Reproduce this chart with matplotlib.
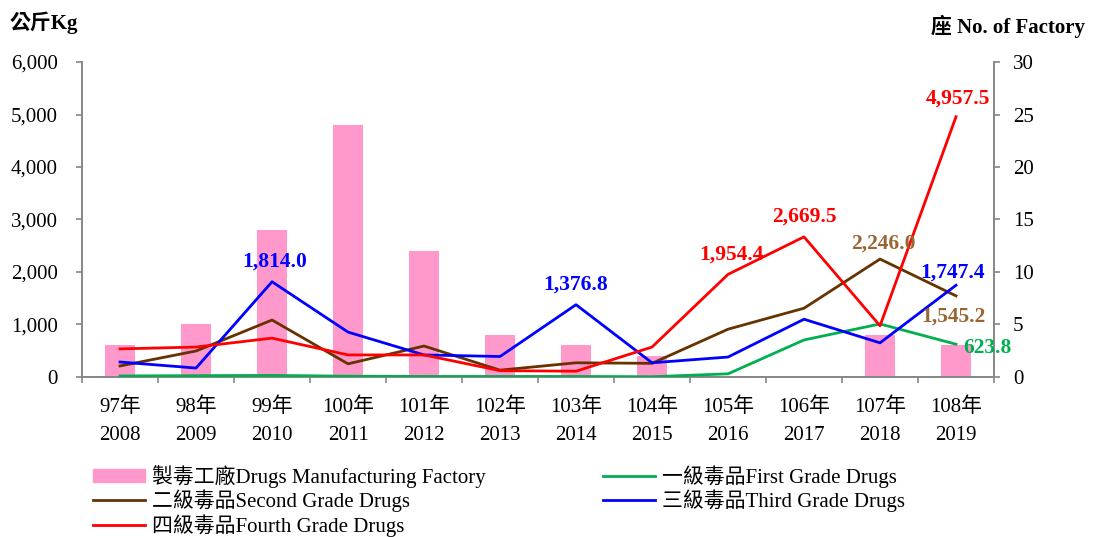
import matplotlib.pyplot as plt
from matplotlib.patches import Patch
from matplotlib.lines import Line2D
from matplotlib.ticker import FuncFormatter

plt.rcParams['font.family'] = ['Liberation Serif', 'Noto Sans CJK TC']

roc_years = ['97年', '98年', '99年', '100年', '101年', '102年',
             '103年', '104年', '105年', '106年', '107年', '108年']
ad_years = ['2008', '2009', '2010', '2011', '2012', '2013',
            '2014', '2015', '2016', '2017', '2018', '2019']

factories = [3, 5, 14, 24, 12, 4, 3, 2, 0, 0, 4, 3]
grade1 = [20, 25, 30, 15, 10, 10, 10, 5, 60, 705, 1010, 623.8]
grade2 = [210, 495, 1085, 250, 590, 130, 270, 260, 910, 1310, 2246.0, 1545.2]
grade3 = [285, 170, 1814.0, 855, 420, 390, 1376.8, 270, 380, 1100, 650, 1747.4]
grade4 = [535, 570, 740, 420, 420, 120, 110, 570, 1954.4, 2669.5, 975, 4957.5]

pink = '#FF99CC'
green = '#00B050'
brown = '#663300'
brown_lbl = '#996633'
blue = '#0000FF'
red = '#FF0000'
gray = '#868686'

fig = plt.figure(figsize=(10.94, 5.37), dpi=100)
ax = fig.add_axes([0.075, 0.298, 0.8336, 0.5865])
ax2 = ax.twinx()
ax.set_zorder(ax2.get_zorder() + 1)
ax.patch.set_visible(False)

x = list(range(len(roc_years)))
ax2.bar(x, factories, width=0.4, color=pink, zorder=1)

ax.plot(x, grade1, color=green, lw=2, zorder=3)
ax.plot(x, grade2, color=brown, lw=2, zorder=3)
ax.plot(x, grade3, color=blue, lw=2, zorder=3)
ax.plot(x, grade4, color=red, lw=2, zorder=3)

ax.set_xlim(-0.5, 11.5)
ax.set_ylim(0, 6000)
ax2.set_ylim(0, 30)
ax.set_yticks(range(0, 6001, 1000))
ax2.set_yticks(range(0, 31, 5))
ax.yaxis.set_major_formatter(FuncFormatter(lambda v, p: f'{int(v):,}'))

ax.set_xticks([i - 0.5 for i in range(13)])
ax.set_xticklabels([])
ax.set_xticks(x, minor=True)
ax.set_xticklabels([f'{a}\n{b}' for a, b in zip(roc_years, ad_years)], minor=True,
                   fontsize=15, linespacing=1.6)
ax.tick_params(axis='x', which='minor', length=0, pad=15)
ax.tick_params(axis='x', which='major', length=4, color=gray, width=1.2)
ax.tick_params(axis='y', length=4, color=gray, width=1.2, labelsize=15, pad=13.5)
ax2.tick_params(axis='y', length=4, color=gray, width=1.2, labelsize=15, pad=9.5)

for a in (ax, ax2):
    a.spines['top'].set_visible(False)
    for s in ('left', 'right', 'bottom'):
        a.spines[s].set_color(gray)
        a.spines[s].set_linewidth(1.2)

# value labels
lbl = dict(fontsize=15.5, fontweight='bold', ha='center', va='bottom')
ax.text(2.04, grade3[2] + 190, f'{grade3[2]:,.1f}', color=blue, **lbl)
ax.text(6, grade3[6] + 190, f'{grade3[6]:,.1f}', color=blue, **lbl)
ax.text(8.05, grade4[8] + 190, f'{grade4[8]:,.1f}', color=red, **lbl)
ax.text(9, grade4[9] + 190, f'{grade4[9]:,.1f}', color=red, **lbl)
ax.text(10.04, grade2[10] + 110, f'{grade2[10]:,.1f}', color=brown_lbl, **lbl)
ax.text(11.02, grade4[11] + 160, f'{grade4[11]:,.1f}', color=red, **lbl)
ax.text(10.95, 1980, f'{grade3[11]:,.1f}', color=blue,
        fontsize=15.5, fontweight='bold', ha='center', va='center')
ax.text(10.96, 1143, f'{grade2[11]:,.1f}', color=brown_lbl,
        fontsize=15.5, fontweight='bold', ha='center', va='center')
ax.text(11.09, 550, f'{grade1[11]:,.1f}', color=green,
        fontsize=15.5, fontweight='bold', ha='left', va='center')

fig.text(0.009, 0.958, '公斤Kg', fontsize=15, fontweight='bold', va='center')
fig.text(0.992, 0.95, '座 No. of Factory', fontsize=15, fontweight='bold',
         va='center', ha='right')

handles = [
    Patch(color=pink),
    Line2D([], [], color=brown, lw=2),
    Line2D([], [], color=red, lw=2),
    Line2D([], [], color=green, lw=2),
    Line2D([], [], color=blue, lw=2),
]
labels = [
    '製毒工廠Drugs Manufacturing Factory',
    '二級毒品Second Grade Drugs',
    '四級毒品Fourth Grade Drugs',
    '一級毒品First Grade Drugs',
    '三級毒品Third Grade Drugs',
]
fig.legend(handles, labels, ncol=2, loc='upper left', bbox_to_anchor=(0.085, 0.134),
           frameon=False, fontsize=15, handlelength=2.5, handleheight=0.55,
           handletextpad=0.33, labelspacing=0.08, columnspacing=5.65,
           borderaxespad=0, borderpad=0)

fig.savefig('out.png', dpi=100)
